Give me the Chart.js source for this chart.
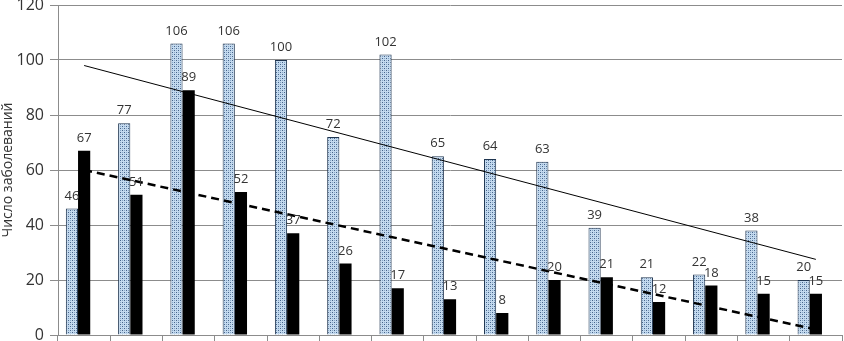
<!DOCTYPE html>
<html><head><meta charset="utf-8">
<script src="https://cdn.jsdelivr.net/npm/chart.js@4.4.1/dist/chart.umd.min.js"></script>
<style>html,body{margin:0;padding:0;background:#fff}#wrap{width:844px;height:341px;position:relative}</style>
</head><body><div id="wrap"><canvas id="c"></canvas></div>
<script>
const categories = ['1','2','3','4','5','6','7','8','9','10','11','12','13','14','15'];
const seriesA = [46,77,106,106,100,72,102,65,64,63,39,21,22,38,20];
const seriesB = [67,51,89,52,37,26,17,13,8,20,21,12,18,15,15];
// trend line end values (first and last category)
const trendA = [98, 27.5];
const trendB = [60, 2];
const yTitle = 'Число заболеваний';
const yMin = 0, yMax = 120, yStep = 20;

function endsOnly(ends){
  return categories.map((c,i)=> i===0 ? ends[0] : (i===categories.length-1 ? ends[1] : null));
}
function makePattern(){
  const p = document.createElement('canvas');
  p.width = 4; p.height = 4;
  const g = p.getContext('2d');
  g.fillStyle = '#c4daef'; g.fillRect(0,0,4,4);
  g.fillStyle = '#46638a';
  g.fillRect(0,0,1,1); g.fillRect(2,2,1,1);
  g.fillStyle = '#86a6c6';
  g.fillRect(2,0,1,1); g.fillRect(0,2,1,1);
  return g.createPattern(p,'repeat');
}
const ctx = document.getElementById('c').getContext('2d');
const pattern = makePattern();

const labelPlugin = {
  id: 'barLabels',
  afterDatasetsDraw(chart){
    const c = chart.ctx;
    c.save();
    c.font = '13px "Open Sans"';
    c.fillStyle = '#333333';
    c.textAlign = 'center';
    c.textBaseline = 'alphabetic';
    [0,1].forEach(di => {
      const meta = chart.getDatasetMeta(di);
      const vals = chart.data.datasets[di].data;
      meta.data.forEach((el,i) => {
        c.fillText(String(vals[i]), el.x, el.y - 9);
      });
    });
    c.restore();
  }
};

new Chart(ctx, {
  data: {
    labels: categories,
    datasets: [
      {type:'bar', label:'A', data: seriesA, backgroundColor: pattern, borderColor:'#1f3550', borderWidth:1, order:2, categoryPercentage:0.7, barPercentage:1},
      {type:'bar', label:'B', data: seriesB, backgroundColor:'#000000', borderWidth:0, order:2, categoryPercentage:0.7, barPercentage:1},
      {type:'bar', label:'', data: categories.map(()=>null), backgroundColor:'rgba(0,0,0,0)', order:2, categoryPercentage:0.7, barPercentage:1},
      {type:'line', label:'TA', data: endsOnly(trendA), spanGaps:true, borderColor:'#000', borderWidth:1, pointRadius:0, fill:false, order:1},
      {type:'line', label:'TB', data: endsOnly(trendB), spanGaps:true, borderColor:'#000', borderWidth:2.5, borderDash:[8,5], pointRadius:0, fill:false, order:1}
    ]
  },
  options: {
    responsive: true, maintainAspectRatio: false, animation: false,
    layout: {padding: {left:0, right:2, top:5, bottom:0}},
    plugins: {legend:{display:false}, tooltip:{enabled:false}},
    scales: {
      x: {
        type:'category', offset:true,
        grid: {display:true, drawOnChartArea:false, drawTicks:true, tickLength:6, color:'#8c8c8c', offset:true},
        border: {display:true, color:'#8c8c8c'},
        ticks: {display:false},
        afterFit: s => { s.height = 6; s.paddingLeft = 0; s.paddingRight = 0; }
      },
      y: {
        min: yMin, max: yMax,
        ticks: {stepSize: yStep, color:'#333333', font:{family:'"Open Sans"', size:16}, padding:6},
        grid: {color:'#8c8c8c', tickLength:8, drawTicks:true},
        border: {display:true, color:'#8c8c8c'},
        title: {display:true, text: yTitle, color:'#333333', font:{family:'"Open Sans"', size:14}, padding:{top:0,bottom:0}},
        afterFit: s => { s.width = 58; s.paddingTop = 0; s.paddingBottom = 0; }
      }
    }
  },
  plugins: [labelPlugin]
});
</script></body></html>
